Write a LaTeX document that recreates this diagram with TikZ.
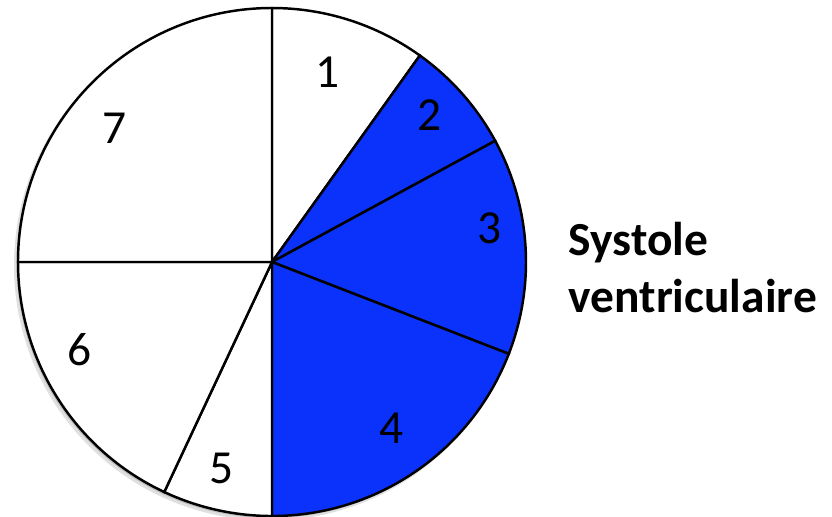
\documentclass[tikz,border=0pt]{standalone}
\usepackage{fontspec}
\setmainfont{Carlito}
\usepackage{xcolor}
\definecolor{pieblue}{RGB}{10,50,250}

\begin{document}
\begin{tikzpicture}[
    slice/.style={draw=black, line width=0.7pt},
    num/.style={font=\fontsize{13.5}{16}\selectfont},
    caption/.style={anchor=base west, inner sep=0pt, font=\bfseries\fontsize{13.5}{16}\selectfont},
]
            \useasboundingbox (0,0) rectangle (8.32,5.16);
            \coordinate (c) at (2.72,2.54);
            % Shadow
            \fill[black!12] ([shift={(-0.03,-0.035)}]c) circle (2.55);
            \fill[black!25] ([shift={(-0.015,-0.02)}]c) circle (2.54);
            \fill[white] (c) circle (2.54);
            
            % Slices
            \draw[slice, fill=white] (c) -- ++(90:2.54) arc (90:54.4:2.54) -- cycle;
            \draw[slice, fill=pieblue] (c) -- ++(54.4:2.54) arc (54.4:28.5:2.54) -- cycle;
            \draw[slice, fill=pieblue] (c) -- ++(28.5:2.54) arc (28.5:-21.2:2.54) -- cycle;
            \draw[slice, fill=pieblue] (c) -- ++(-21.2:2.54) arc (-21.2:-90:2.54) -- cycle;
            \draw[slice, fill=white] (c) -- ++(-90:2.54) arc (-90:-115.1:2.54) -- cycle;
            \draw[slice, fill=white] (c) -- ++(-115.1:2.54) arc (-115.1:-180:2.54) -- cycle;
            \draw[slice, fill=white] (c) -- ++(180:2.54) arc (180:90:2.54) -- cycle;
            
            % Labels
            \node[num] (n1) at (3.28, 4.44) {1};
            \node[num] (n2) at (4.30, 4.01) {2};
            \node[num] (n3) at (4.90, 2.88) {3};
            \node[num] (n4) at (3.92, 0.88) {4};
            \node[num] (n5) at (2.22, 0.48) {5};
            \node[num] (n6) at (0.80, 1.66) {6};
            \node[num] (n7) at (1.15, 3.88) {7};
            
            \node[caption] (sys) at (5.68, 2.61) {Systole};
            \node[caption] (vent) at (5.68, 2.04) {ventriculaire};
        \end{tikzpicture}
\end{document}
